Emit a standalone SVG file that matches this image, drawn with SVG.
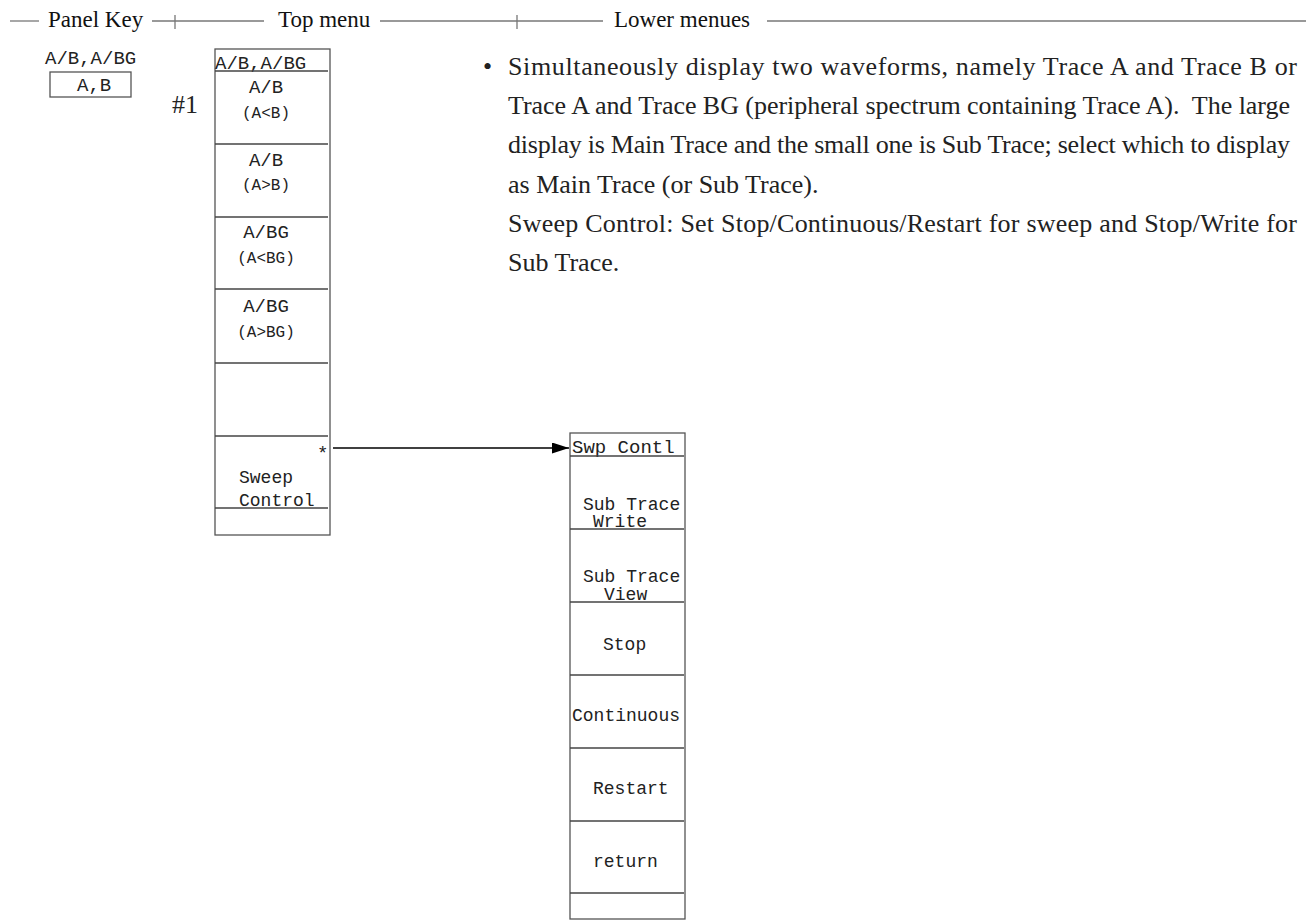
<svg xmlns="http://www.w3.org/2000/svg" width="1311" height="924" viewBox="0 0 1311 924">
  <defs>
    <style>
      .hdr { font-family: "Liberation Serif", "Times New Roman", serif; font-size: 23px; fill: #111; }
      .body { font-family: "Liberation Serif", "Times New Roman", serif; font-size: 26px; fill: #222; }
      .mono { font-family: "Liberation Mono", "Courier New", monospace; font-size: 19px; fill: #222; }
      .mono-m { font-family: "Liberation Mono", "Courier New", monospace; font-size: 18px; fill: #222; }
      .mono-s { font-family: "Liberation Mono", "Courier New", monospace; font-size: 16px; fill: #222; }
      .rule { stroke: #777; stroke-width: 1.3; fill: none; }
      .box { stroke: #555; stroke-width: 1.3; fill: #fff; }
      .sep { stroke: #444; stroke-width: 1.3; }
      .link { stroke: #000; stroke-width: 1.3; fill: none; }
    </style>
    <marker id="arrowhead" markerWidth="17" markerHeight="11" refX="17" refY="5.5" orient="auto" markerUnits="userSpaceOnUse">
      <path d="M0,0 L17,5.5 L0,11 Z" fill="#000"/>
    </marker>
  </defs>

  <!-- column header rule -->
  <g id="header">
    <line class="rule" x1="10" y1="21" x2="39" y2="21"/>
    <text class="hdr" x="48" y="27">Panel Key</text>
    <line class="rule" x1="152" y1="21" x2="264" y2="21"/>
    <line class="rule" x1="175" y1="15" x2="175" y2="29"/>
    <text class="hdr" x="278" y="27">Top menu</text>
    <line class="rule" x1="380" y1="21" x2="603" y2="21"/>
    <line class="rule" x1="517" y1="15" x2="517" y2="29"/>
    <text class="hdr" x="614" y="27">Lower menues</text>
    <line class="rule" x1="767" y1="21" x2="1306" y2="21"/>
  </g>

  <!-- panel key -->
  <g id="panel-key">
    <text class="mono" x="45" y="64">A/B,A/BG</text>
    <rect class="box" x="50" y="72" width="81" height="25"/>
    <text class="mono" x="77" y="91">A,B</text>
  </g>

  <text class="body" x="172" y="113" font-size="25">#1</text>

  <!-- top menu -->
  <g id="top-menu">
    <rect class="box" x="215" y="49" width="115" height="486"/>
    <text class="mono" x="215" y="69">A/B,A/BG</text>
    <line class="sep" x1="215" y1="71" x2="328" y2="71"/>
    <text class="mono" x="266" y="93" text-anchor="middle">A/B</text>
    <text class="mono-s" x="266" y="118" text-anchor="middle">(A&lt;B)</text>
    <line class="sep" x1="215" y1="144" x2="328" y2="144"/>
    <text class="mono" x="266" y="166" text-anchor="middle">A/B</text>
    <text class="mono-s" x="266" y="190" text-anchor="middle">(A&gt;B)</text>
    <line class="sep" x1="215" y1="217" x2="328" y2="217"/>
    <text class="mono" x="266" y="238" text-anchor="middle">A/BG</text>
    <text class="mono-s" x="266" y="263" text-anchor="middle">(A&lt;BG)</text>
    <line class="sep" x1="215" y1="289" x2="328" y2="289"/>
    <text class="mono" x="266" y="312" text-anchor="middle">A/BG</text>
    <text class="mono-s" x="266" y="337" text-anchor="middle">(A&gt;BG)</text>
    <line class="sep" x1="215" y1="363" x2="328" y2="363"/>
    <line class="sep" x1="215" y1="436" x2="328" y2="436"/>
    <text class="mono" x="317" y="459">*</text>
    <text class="mono-m" x="239" y="483">Sweep</text>
    <text class="mono-m" x="239" y="506">Control</text>
    <line class="sep" x1="215" y1="508" x2="328" y2="508"/>
  </g>

  <!-- sweep control submenu -->
  <g id="swp-contl">
    <rect class="box" x="570" y="433" width="115" height="486"/>
    <text class="mono" x="572" y="453">Swp Contl</text>
    <line class="sep" x1="570" y1="456" x2="684" y2="456"/>
    <text class="mono-m" x="583" y="510">Sub Trace</text>
    <text class="mono-m" x="593" y="527">Write</text>
    <line class="sep" x1="570" y1="529" x2="684" y2="529"/>
    <text class="mono-m" x="583" y="582">Sub Trace</text>
    <text class="mono-m" x="604" y="600">View</text>
    <line class="sep" x1="570" y1="602" x2="684" y2="602"/>
    <text class="mono-m" x="603" y="650">Stop</text>
    <line class="sep" x1="570" y1="675" x2="684" y2="675"/>
    <text class="mono-m" x="572" y="721">Continuous</text>
    <line class="sep" x1="570" y1="748" x2="684" y2="748"/>
    <text class="mono-m" x="593" y="794">Restart</text>
    <line class="sep" x1="570" y1="821" x2="684" y2="821"/>
    <text class="mono-m" x="593" y="867">return</text>
    <line class="sep" x1="570" y1="893" x2="684" y2="893"/>
  </g>

  <!-- connectors -->
  <g id="connectors">
    <line class="link" x1="333" y1="448" x2="569" y2="448" marker-end="url(#arrowhead)"/>
  </g>

  <!-- description -->
  <g id="description">
    <text class="body" x="483" y="75">•</text>
    <text class="body" x="508" y="75" textLength="789" lengthAdjust="spacing">Simultaneously display two waveforms, namely Trace A and Trace B or</text>
    <text class="body" x="508" y="114" textLength="782" lengthAdjust="spacing" xml:space="preserve">Trace A and Trace BG (peripheral spectrum containing Trace A).  The large</text>
    <text class="body" x="508" y="153" textLength="782" lengthAdjust="spacing">display is Main Trace and the small one is Sub Trace; select which to display</text>
    <text class="body" x="508" y="193">as Main Trace (or Sub Trace).</text>
    <text class="body" x="508" y="232" textLength="789" lengthAdjust="spacing">Sweep Control: Set Stop/Continuous/Restart for sweep and Stop/Write for</text>
    <text class="body" x="508" y="271">Sub Trace.</text>
  </g>
</svg>
